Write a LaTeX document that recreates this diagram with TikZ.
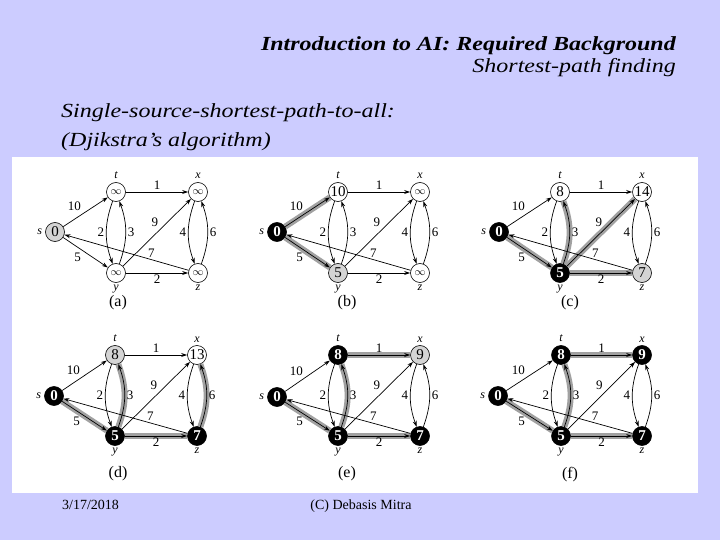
\documentclass[tikz,border=0pt]{standalone}
\usepackage{fontspec}
\setmainfont{Liberation Serif}
\newfontfamily\widefont[FakeStretch=1.2,Ligatures=TeX]{Liberation Serif}
\usetikzlibrary{arrows.meta,positioning}
\definecolor{slide}{RGB}{204,204,255}
\tikzset{
  vtx/.style ={draw,circle,minimum size=19pt,inner sep=0pt,line width=0.6pt,fill=white,font=\fontsize{15}{15}\selectfont},
  seen/.style={vtx,fill=black!17},
  done/.style={vtx,fill=black,text=white,font=\fontsize{15}{15}\selectfont\bfseries},
  ar/.style  ={-{Stealth[length=6pt,width=4pt]},line width=0.7pt},
  tree/.style={line width=6pt,black!37},
  lbl/.style ={font=\fontsize{13}{13}\selectfont,inner sep=2pt},
  tag/.style ={font=\fontsize{12}{12}\selectfont\itshape,inner sep=1pt},
  sub/.style ={font=\fontsize{16}{16}\selectfont,inner sep=0pt},
  txt/.style ={inner sep=0pt},
  big/.style ={txt,font=\widefont\fontsize{20}{20}\selectfont\itshape},
  bigbf/.style ={txt,font=\widefont\fontsize{20}{20}\selectfont\bfseries\itshape},
}
\newcommand\infy{{\fontsize{11}{11}\selectfont$\infty$}}
% weighted edges and vertex names of one panel
\newcommand\wedges[1]{%
  \draw[ar] (#1-s) -- node[lbl,above left,pos=0.45]{10} (#1-t);
  \draw[ar] (#1-s) -- node[lbl,below left,pos=0.45]{5} (#1-y);
  \draw[ar] (#1-t) -- node[lbl,above]{1} (#1-x);
  \draw[ar] (#1-t) to[bend right=20] node[lbl,left]{2} (#1-y);
  \draw[ar] (#1-y) to[bend right=20] node[lbl,right]{3} (#1-t);
  \draw[ar] (#1-y) -- node[lbl,above left,pos=0.55]{9} (#1-x);
  \draw[ar] (#1-x) to[bend right=20] node[lbl,left]{4} (#1-z);
  \draw[ar] (#1-z) to[bend right=20] node[lbl,right]{6} (#1-x);
  \draw[ar] (#1-z) -- node[lbl,above,pos=0.3]{7} (#1-s);
  \draw[ar] (#1-y) -- node[lbl,below]{2} (#1-z);
  \node[tag,left=2pt of #1-s] (#1-sn) {s};
  \node[tag,above=2pt of #1-t] (#1-tn) {t};
  \node[tag,above=2pt of #1-x] (#1-xn) {x};
  \node[tag,below=0.5pt of #1-y] (#1-yn) {y};
  \node[tag,below=0.5pt of #1-z] (#1-zn) {z};
}

\begin{document}
\begin{tikzpicture}[x=1pt,y=-1pt]
  \fill[slide] (0,0) rectangle (720,540);
  \fill[white] (12,157) rectangle (698,493);

  % slide texts
  \node[bigbf,anchor=base east] (title) at (676,51) {Introduction to AI: Required Background};
  \node[big,anchor=base east] (subtitle) at (676,73) {Shortest-path finding};
  \node[big,anchor=base west] (head) at (61,118) {Single-source-shortest-path-to-all:};
  \node[big,anchor=base west] (algo) at (61,147) {(Djikstra’s algorithm)};
  \node[txt,anchor=base west,font=\fontsize{14}{14}\selectfont] (date) at (62,509) {3/17/2018};
  \node[txt,anchor=base,font=\fontsize{14}{14}\selectfont] (copy) at (361,509) {(C) Debasis Mitra};

  % (a)
  \begin{scope}[shift={(55,232)}]
    \node[seen] (a-s) at (0,0) {0};
    \node[vtx] (a-t) at (61,-40) {\infy};
    \node[vtx] (a-x) at (143,-40) {\infy};
    \node[vtx] (a-y) at (61,41) {\infy};
    \node[vtx] (a-z) at (143,41) {\infy};
    \wedges{a}
    \node[sub] (a-cap) at (63,71) {(a)};
  \end{scope}

  % (b)
  \begin{scope}[shift={(277,232)}]
    \node[done] (b-s) at (0,0) {0};
    \node[vtx] (b-t) at (61,-40) {10};
    \node[vtx] (b-x) at (143,-40) {\infy};
    \node[seen] (b-y) at (61,41) {5};
    \node[vtx] (b-z) at (143,41) {\infy};
    \draw[tree] (b-s) -- (b-t);
    \draw[tree] (b-s) -- (b-y);
    \wedges{b}
    \node[sub] (b-cap) at (70,71) {(b)};
  \end{scope}

  % (c)
  \begin{scope}[shift={(499,232)}]
    \node[done] (c-s) at (0,0) {0};
    \node[vtx] (c-t) at (61,-40) {8};
    \node[vtx] (c-x) at (143,-40) {14};
    \node[done] (c-y) at (61,41) {5};
    \node[seen] (c-z) at (143,41) {7};
    \draw[tree] (c-s) -- (c-y);
    \draw[tree] (c-y) to[bend right=20] (c-t);
    \draw[tree] (c-y) -- (c-x);
    \draw[tree] (c-y) -- (c-z);
    \wedges{c}
    \node[sub] (c-cap) at (71,71) {(c)};
  \end{scope}

  % (d)
  \begin{scope}[shift={(54,396)}]
    \node[done] (d-s) at (0,0) {0};
    \node[seen] (d-t) at (61,-41) {8};
    \node[vtx] (d-x) at (143,-41) {13};
    \node[done] (d-y) at (61,40) {5};
    \node[done] (d-z) at (143,40) {7};
    \draw[tree] (d-s) -- (d-y);
    \draw[tree] (d-y) to[bend right=20] (d-t);
    \draw[tree] (d-y) -- (d-z);
    \draw[tree] (d-z) to[bend right=20] (d-x);
    \wedges{d}
    \node[sub] (d-cap) at (64,78) {(d)};
  \end{scope}

  % (e)
  \begin{scope}[shift={(277,397)}]
    \node[done] (e-s) at (0,0) {0};
    \node[done] (e-t) at (61,-42) {8};
    \node[seen] (e-x) at (143,-42) {9};
    \node[done] (e-y) at (61,39) {5};
    \node[done] (e-z) at (143,39) {7};
    \draw[tree] (e-s) -- (e-y);
    \draw[tree] (e-y) to[bend right=20] (e-t);
    \draw[tree] (e-t) -- (e-x);
    \draw[tree] (e-y) -- (e-z);
    \wedges{e}
    \node[sub] (e-cap) at (70,77) {(e)};
  \end{scope}

  % (f)
  \begin{scope}[shift={(498,396)}]
    \node[done] (f-s) at (0,0) {0};
    \node[done] (f-t) at (63,-41) {8};
    \node[done] (f-x) at (144,-41) {9};
    \node[done] (f-y) at (63,40) {5};
    \node[done] (f-z) at (144,40) {7};
    \draw[tree] (f-s) -- (f-y);
    \draw[tree] (f-y) to[bend right=20] (f-t);
    \draw[tree] (f-t) -- (f-x);
    \draw[tree] (f-y) -- (f-z);
    \wedges{f}
    \node[sub] (f-cap) at (72,79) {(f)};
  \end{scope}
\end{tikzpicture}
\end{document}
